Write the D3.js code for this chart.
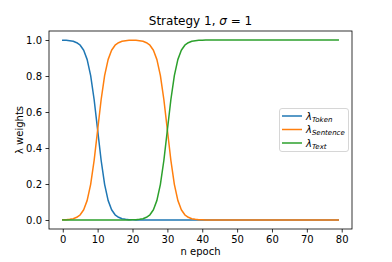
<!DOCTYPE html>
<html><head><meta charset="utf-8">
<script src="https://cdn.jsdelivr.net/npm/d3@7"></script>
<style>
html,body{margin:0;padding:0;background:#fff;}
svg{display:block;font-family:"DejaVu Sans",sans-serif;}
</style></head>
<body><svg id="c" width="392" height="262"></svg>
<script>
const epochs = d3.range(0, 80);
const tokenW = [0.999,0.998,0.996,0.993,0.985,0.971,0.943,0.891,0.802,0.668,
  0.5,0.332,0.198,0.109,0.057,0.029,0.015,0.007,0.004,0.002,
  0.001,0,0,0,0,0,0,0,0,0,
  0,0,0,0,0,0,0,0,0,0,
  0,0,0,0,0,0,0,0,0,0,
  0,0,0,0,0,0,0,0,0,0,
  0,0,0,0,0,0,0,0,0,0,
  0,0,0,0,0,0,0,0,0,0];
const sentenceW = [0.001,0.002,0.004,0.007,0.015,0.029,0.057,0.109,0.198,0.332,
  0.5,0.668,0.802,0.891,0.943,0.971,0.985,0.993,0.996,0.998,
  0.999,0.998,0.996,0.993,0.985,0.971,0.943,0.891,0.802,0.668,
  0.5,0.332,0.198,0.109,0.057,0.029,0.015,0.007,0.004,0.002,
  0.001,0,0,0,0,0,0,0,0,0,
  0,0,0,0,0,0,0,0,0,0,
  0,0,0,0,0,0,0,0,0,0,
  0,0,0,0,0,0,0,0,0,0];
const textW = [0,0,0,0,0,0,0,0,0,0,
  0,0,0,0,0,0,0,0,0,0,
  0.001,0.002,0.004,0.007,0.015,0.029,0.057,0.109,0.198,0.332,
  0.5,0.668,0.802,0.891,0.943,0.971,0.985,0.993,0.996,0.998,
  0.999,1,1,1,1,1,1,1,1,1,
  1,1,1,1,1,1,1,1,1,1,
  1,1,1,1,1,1,1,1,1,1,
  1,1,1,1,1,1,1,1,1,1];
const seriesNames = ["Token","Sentence","Text"];
const seriesColors = ["#1f77b4","#ff7f0e","#2ca02c"];
const xTicks = [0,10,20,30,40,50,60,70,80];
const yTicks = [0.0,0.2,0.4,0.6,0.8,1.0];

const svg = d3.select("#c");
const L = 49, R = 352, T = 31, B = 229;
const x = d3.scaleLinear().domain([-3.95, 82.95]).range([L, R]);
const y = d3.scaleLinear().domain([-0.05, 1.05]).range([B, T]);

const series = [tokenW, sentenceW, textW];
const line = d3.line().x((d,i)=>x(epochs[i])).y(d=>y(d));
const plot = svg.append("g");
series.forEach((s,k)=>{
  plot.append("path").datum(s).attr("d", line)
    .attr("fill","none").attr("stroke", seriesColors[k]).attr("stroke-width",1.5)
    .attr("stroke-linejoin","round").attr("stroke-linecap","square");
});

// spines
svg.append("rect").attr("x",L).attr("y",T).attr("width",R-L).attr("height",B-T)
  .attr("fill","none").attr("stroke","#000").attr("stroke-width",0.8);

const xa = svg.append("g").attr("transform",`translate(0,${B})`)
  .call(d3.axisBottom(x).tickValues(xTicks).tickSize(3.5).tickPadding(3.5).tickFormat(d3.format("d")));
const ya = svg.append("g").attr("transform",`translate(${L},0)`)
  .call(d3.axisLeft(y).tickValues(yTicks).tickSize(3.5).tickPadding(3.5).tickFormat(d3.format(".1f")));
[xa,ya].forEach(a=>{
  a.select(".domain").remove();
  a.selectAll("line").attr("stroke","#000").attr("stroke-width",0.8);
  a.selectAll("text").attr("fill","#000").style("font-size","10px").style("font-family","DejaVu Sans");
});

// title
const title = svg.append("text").attr("x",(L+R)/2).attr("y",25).attr("text-anchor","middle")
  .style("font-size","12px").attr("fill","#000");
title.append("tspan").text("Strategy 1, ");
title.append("tspan").attr("font-style","italic").text("σ");
title.append("tspan").text(" = 1");

// axis labels
svg.append("text").attr("x",(L+R)/2).attr("y",255).attr("text-anchor","middle")
  .style("font-size","10px").attr("fill","#000").text("n epoch");
svg.append("text").attr("transform",`translate(23,${(T+B)/2}) rotate(-90)`)
  .attr("text-anchor","middle").style("font-size","10px").attr("fill","#000").text("λ weights");

// legend
const lg = svg.append("g");
lg.append("rect").attr("x",279.5).attr("y",108.5).attr("width",69).attr("height",43)
  .attr("rx",2.5).attr("fill","#fff").attr("fill-opacity",0.8).attr("stroke","#ccc").attr("stroke-width",0.8);
seriesNames.forEach((n,k)=>{
  const yy = 116 + k*13.5;
  lg.append("line").attr("x1",282).attr("x2",302).attr("y1",yy).attr("y2",yy)
    .attr("stroke",seriesColors[k]).attr("stroke-width",1.5);
  const t = lg.append("text").attr("x",306).attr("y",yy+3.5).style("font-size","10px").attr("fill","#000");
  t.append("tspan").attr("font-style","italic").text("λ");
  t.append("tspan").attr("font-style","italic").style("font-size","7px").attr("dy",2).text(n);
});
</script></body></html>
